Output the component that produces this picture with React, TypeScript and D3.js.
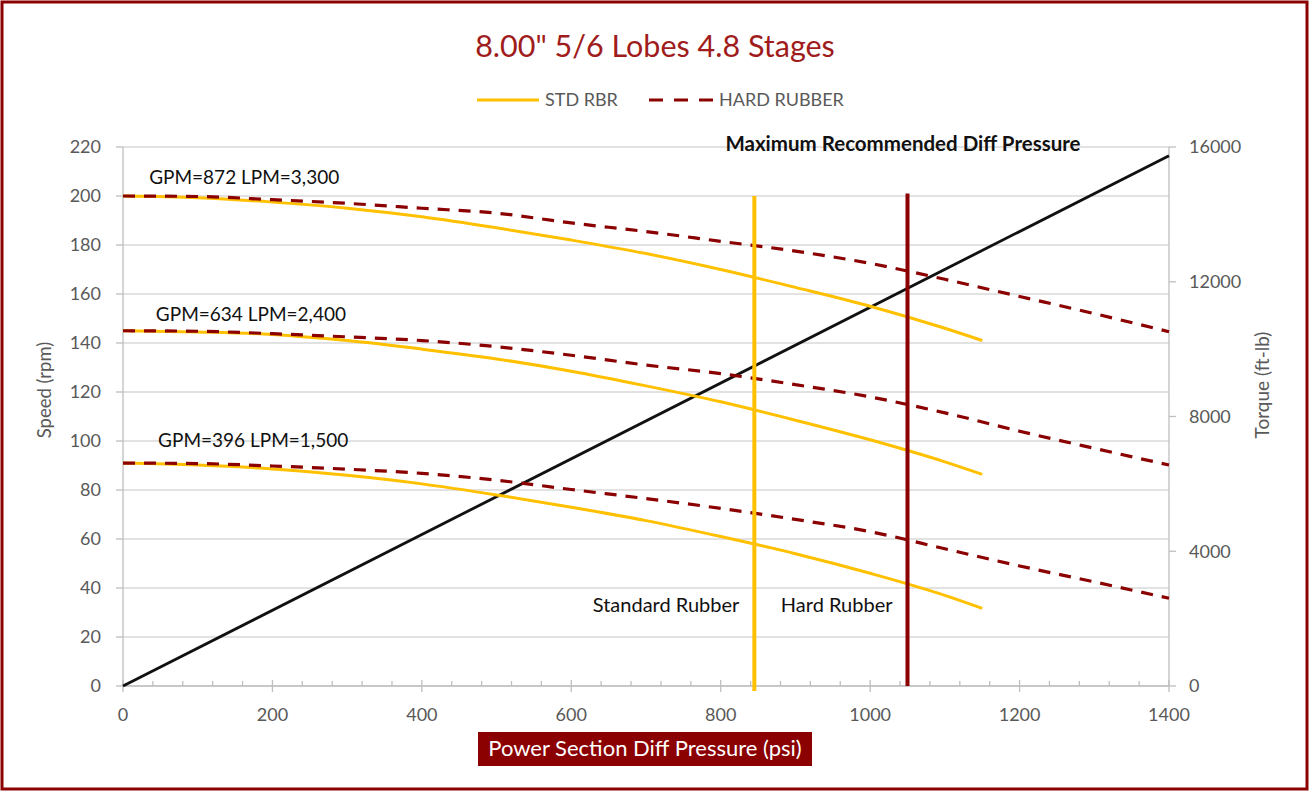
import React from "react";
import * as d3 from "d3";

// psi points
const stdPsi = [0, 100, 200, 300, 400, 500, 600, 700, 800, 900, 1000, 1100, 1150];
const hardPsi = [0, 100, 200, 300, 400, 500, 600, 700, 800, 900, 1000, 1100, 1200, 1300, 1400];

// speed (rpm) per flow rate
const std872 = [200, 199.3, 197.5, 195, 191.5, 187, 182, 176.5, 170, 162.7, 155, 146, 141];
const hard872 = [200, 199.8, 198.5, 197, 195, 193, 189, 185.5, 181.5, 177.5, 172.5, 166, 159, 152, 144.6];
const std634 = [145, 144.5, 143.5, 141, 137.5, 133.5, 128.5, 122.5, 116, 108.5, 100.5, 91.5, 86.4];
const hard634 = [145, 144.8, 143.8, 142.5, 141, 138.5, 135, 131, 127.5, 123, 118, 111.5, 104, 97, 90.2];
const std396 = [91, 90.2, 88.6, 86, 82.5, 78, 73, 67.5, 61, 54, 46, 37, 31.7];
const hard396 = [91, 90.8, 89.8, 88.5, 86.8, 84, 80.2, 76.5, 72.5, 68, 63, 56, 49, 42.5, 35.8];

// torque line (ft-lb)
const torquePsi = [0, 1400];
const torqueVals = [0, 15740];

// recommended limits
const limitNames = ["Standard Rubber", "Hard Rubber"];
const limitPsi = [845, 1050];
const limitTop = [200, 201];
const limitBottom = [-2, 0];

const flowLabels = ["GPM=872 LPM=3,300", "GPM=634 LPM=2,400", "GPM=396 LPM=1,500"];
const flowLabelPos = [[35, 205], [44, 149], [47, 97.5]]; // psi, rpm

const xTicks = [0, 200, 400, 600, 800, 1000, 1200, 1400];
const yTicks = d3.range(0, 221, 20);
const yRTicks = [0, 4000, 8000, 12000, 16000];

const YELLOW = "#FFC000";
const DARK = "#8B0000";
const GRAY = "#595959";
const FONT = "Lato, 'Open Sans', sans-serif";

export default function App() {
  const width = 1312;
  const height = 792;
  const x = d3.scaleLinear().domain([0, 1400]).range([123, 1169]);
  const y = d3.scaleLinear().domain([0, 220]).range([686, 147]);
  const yR = d3.scaleLinear().domain([0, 16000]).range([686, 147]);

  const line = d3
    .line<[number, number]>()
    .x((d) => x(d[0]))
    .y((d) => y(d[1]))
    .curve(d3.curveMonotoneX);

  const zip = (xs: number[], ys: number[]) => xs.map((v, i) => [v, ys[i]] as [number, number]);

  const stdSeries = [std872, std634, std396];
  const hardSeries = [hard872, hard634, hard396];
  const minorTicks = d3.range(0, 1401, 40).filter((v) => v % 200 !== 0);

  const torquePath = d3
    .line<[number, number]>()
    .x((d) => x(d[0]))
    .y((d) => yR(d[1]))(zip(torquePsi, torqueVals));

  return (
    <svg
      width={width}
      height={height}
      style={{ position: "absolute", left: 0, top: 0, background: "#fff" }}
      fontFamily={FONT}
    >
      <rect x={2} y={2} width={1305} height={787} fill="#fff" stroke={DARK} strokeWidth={3} />

      {/* gridlines */}
      {yTicks.map((t) => (
        <line key={t} x1={x(0)} x2={x(1400)} y1={y(t)} y2={y(t)} stroke="#D9D9D9" strokeWidth={1.3} />
      ))}

      {/* left axis */}
      <line x1={x(0)} x2={x(0)} y1={y(0)} y2={y(220)} stroke="#BFBFBF" strokeWidth={1.3} />
      {yTicks.map((t) => (
        <g key={t}>
          <line x1={x(0) - 7} x2={x(0)} y1={y(t)} y2={y(t)} stroke="#BFBFBF" strokeWidth={1.3} />
          <text x={101} y={y(t)} dy="0.35em" textAnchor="end" fontSize={18} fill={GRAY}>
            {t}
          </text>
        </g>
      ))}

      {/* right axis */}
      <line x1={x(1400)} x2={x(1400)} y1={yR(0)} y2={yR(16000)} stroke="#BFBFBF" strokeWidth={1.3} />
      {yRTicks.map((t) => (
        <g key={t}>
          <line x1={x(1400)} x2={x(1400) + 7} y1={yR(t)} y2={yR(t)} stroke="#BFBFBF" strokeWidth={1.3} />
          <text x={1189} y={yR(t)} dy="0.35em" textAnchor="start" fontSize={18} fill={GRAY}>
            {t}
          </text>
        </g>
      ))}

      {/* x axis */}
      <line x1={x(0)} x2={x(1400)} y1={y(0)} y2={y(0)} stroke="#BFBFBF" strokeWidth={1.3} />
      {minorTicks.map((t) => (
        <line key={t} x1={x(t)} x2={x(t)} y1={y(0) - 5} y2={y(0)} stroke="#BFBFBF" strokeWidth={1.3} />
      ))}
      {xTicks.map((t) => (
        <g key={t}>
          <line x1={x(t)} x2={x(t)} y1={y(0) - 6} y2={y(0) + 6} stroke="#BFBFBF" strokeWidth={1.3} />
          <text x={x(t)} y={721} textAnchor="middle" fontSize={18} fill={GRAY}>
            {t}
          </text>
        </g>
      ))}

      {/* torque */}
      <path d={torquePath ?? ""} fill="none" stroke="#111" strokeWidth={2.8} />

      {/* speed curves */}
      {stdSeries.map((s, i) => (
        <path key={"s" + i} d={line(zip(stdPsi, s)) ?? ""} fill="none" stroke={YELLOW} strokeWidth={3} />
      ))}
      {hardSeries.map((s, i) => (
        <path
          key={"h" + i}
          d={line(zip(hardPsi, s)) ?? ""}
          fill="none"
          stroke={DARK}
          strokeWidth={3.2}
          strokeDasharray="12 9"
        />
      ))}

      {/* limit lines */}
      {limitPsi.map((p, i) => (
        <g key={p}>
          <line
            x1={x(p)}
            x2={x(p)}
            y1={y(limitTop[i])}
            y2={y(limitBottom[i])}
            stroke={i === 0 ? YELLOW : DARK}
            strokeWidth={4}
          />
          <text x={x(p) - 15} y={612} textAnchor="end" fontSize={20} fill="#111">
            {limitNames[i]}
          </text>
        </g>
      ))}

      {flowLabels.map((l, i) => (
        <text key={l} x={x(flowLabelPos[i][0])} y={y(flowLabelPos[i][1])} fontSize={19} fill="#111">
          {l}
        </text>
      ))}

      <text x={903} y={151} textAnchor="middle" fontSize={20.5} fontWeight="bold" fill="#111">
        Maximum Recommended Diff Pressure
      </text>

      {/* title */}
      <text x={655} y={57} textAnchor="middle" fontSize={30.5} fill="#A01C1C">
        8.00" 5/6 Lobes 4.8 Stages
      </text>

      {/* legend */}
      <line x1={477} x2={539} y1={100} y2={100} stroke={YELLOW} strokeWidth={3} />
      <text x={545} y={106} fontSize={18} fill={GRAY}>
        STD RBR
      </text>
      <line x1={649} x2={713} y1={100} y2={100} stroke={DARK} strokeWidth={3} strokeDasharray="14 11" />
      <text x={719} y={106} fontSize={18} fill={GRAY}>
        HARD RUBBER
      </text>

      {/* axis titles */}
      <text
        transform={`translate(51, 390) rotate(-90)`}
        textAnchor="middle"
        fontSize={18.5}
        fill={GRAY}
      >
        Speed (rpm)
      </text>
      <text
        transform={`translate(1269, 385) rotate(-90)`}
        textAnchor="middle"
        fontSize={19}
        fill={GRAY}
      >
        Torque (ft-lb)
      </text>

      <rect x={478} y={732} width={334} height={34} fill={DARK} />
      <text x={645} y={756} textAnchor="middle" fontSize={22} fill="#fff">
        Power Section Diff Pressure (psi)
      </text>
    </svg>
  );
}
